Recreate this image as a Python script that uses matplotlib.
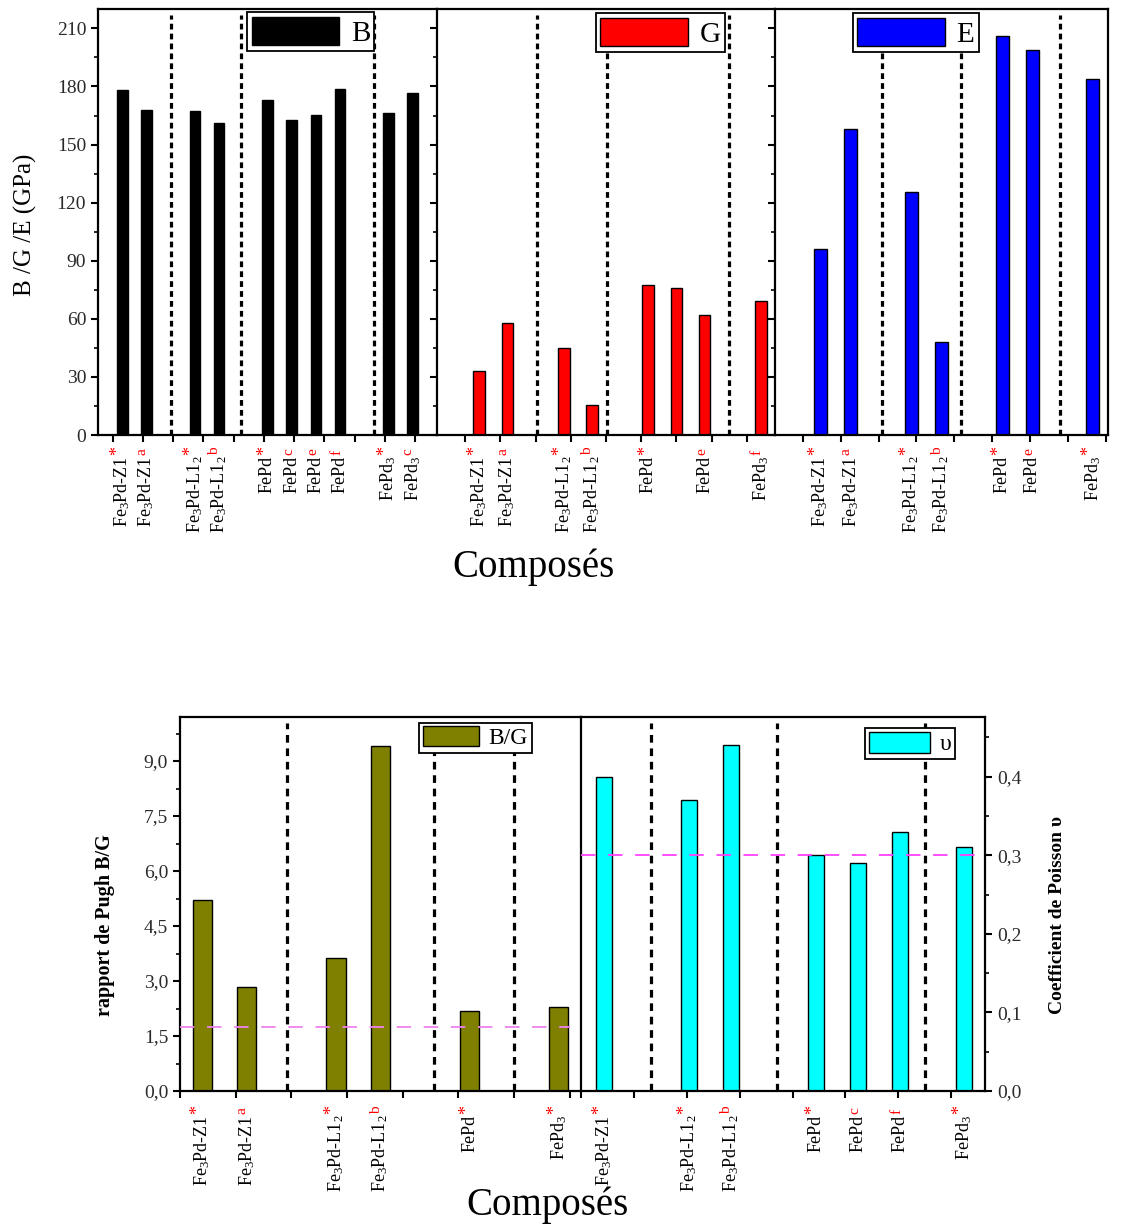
import matplotlib
matplotlib.use('Agg')
import matplotlib.pyplot as plt
from matplotlib.ticker import MultipleLocator, FixedLocator, NullFormatter, FuncFormatter
import numpy as np

plt.rcParams['font.family'] = ['Liberation Serif', 'DejaVu Serif']
plt.rcParams['mathtext.fontset'] = 'custom'
plt.rcParams['mathtext.rm'] = 'Liberation Serif'
plt.rcParams['mathtext.it'] = 'Liberation Serif:italic'
plt.rcParams['mathtext.bf'] = 'Liberation Serif:bold'

# compound names
Z1 = r'Fe$_3$Pd-Z1'
L12 = r'Fe$_3$Pd-L1$_2$'
FEPD = 'FePd'
FEPD3 = r'FePd$_3$'

# bulk modulus B (GPa)
b_names = [Z1, Z1, L12, L12, FEPD, FEPD, FEPD, FEPD, FEPD3, FEPD3]
b_refs = ['*', 'a', '*', 'b', '*', 'c', 'e', 'f', '*', 'c']
b_vals = [178, 168, 167.5, 161, 173, 162.5, 165.5, 178.5, 166.5, 176.5]

# shear modulus G (GPa)
g_names = [Z1, Z1, L12, L12, FEPD, FEPD, FEPD, FEPD3]
g_refs = ['*', 'a', '*', 'b', '*', 'e', 'f', '*']
g_vals = [33, 58, 45, 15.5, 77.5, 76, 62, 69]

# Young modulus E (GPa)
e_names = [Z1, Z1, L12, L12, FEPD, FEPD, FEPD3]
e_refs = ['*', 'a', '*', 'b', '*', 'e', '*']
e_vals = [96, 158, 125.5, 48, 206, 199, 184]

# Pugh ratio B/G
bg_names = [Z1, Z1, L12, L12, FEPD, FEPD3]
bg_refs = ['*', 'a', '*', 'b', '*', '*']
bg_vals = [5.2, 2.85, 3.62, 9.4, 2.18, 2.28]
pugh_limit = 1.75

# Poisson coefficient
nu_names = [Z1, L12, L12, FEPD, FEPD, FEPD, FEPD3]
nu_refs = ['*', '*', 'b', '*', 'c', 'f', '*']
nu_vals = [0.40, 0.37, 0.44, 0.30, 0.29, 0.33, 0.31]
nu_limit = 0.30

W, H = 1124, 1229
fig = plt.figure(figsize=(W / 100, H / 100), dpi=100)

LW = 1.6
LAB_FS = 13


def frac(x0, y0, x1, y1):
    return [x0 / W, 1 - y1 / H, (x1 - x0) / W, (y1 - y0) / H]


def panel(ax, x, vals, color, width, xmax, seps, tick0, names, pad, dash):
    ax.bar(x, vals, width, color=color, edgecolor='black', linewidth=1.0, zorder=2)
    for s in seps:
        ax.axvline(s, ymax=0.985, color='black', ls=(0, dash), lw=2.3, zorder=1)
    ax.set_xlim(0, xmax)
    ax.xaxis.set_major_locator(FixedLocator(np.arange(tick0, xmax, 1.25)))
    ax.xaxis.set_major_formatter(NullFormatter())
    ax.set_xticks(x, minor=True)
    ax.set_xticklabels(names, minor=True, rotation=90, fontsize=LAB_FS, va='top')
    ax.tick_params(axis='x', which='major', direction='out', length=5, width=1.5)
    ax.tick_params(axis='x', which='minor', length=0, pad=pad)
    for sp in ax.spines.values():
        sp.set_linewidth(LW)


# ---------- top: B / G / E ----------
ax_b = fig.add_axes(frac(98, 9, 437, 435))
ax_g = fig.add_axes(frac(437, 9, 775, 435))
ax_e = fig.add_axes(frac(775, 9, 1108, 435))

top_dash = (1.8, 1.3)
panel(ax_b, [1, 2, 4, 5, 7, 8, 9, 10, 12, 13], b_vals, 'black', 0.44, 14,
      [3, 5.9, 11.4], 0.6, b_names, 15, top_dash)
panel(ax_g, [1.5, 2.5, 4.5, 5.5, 7.5, 8.5, 9.5, 11.5], g_vals, '#ff0000', 0.42, 12,
      [3.55, 6.05, 10.35], 1.0, g_names, 15, top_dash)
panel(ax_e, [1.5, 2.5, 4.5, 5.5, 7.5, 8.5, 10.5], e_vals, '#0000ff', 0.43, 11,
      [3.55, 6.15, 9.4], 0.92, e_names, 15, top_dash)

for ax in (ax_b, ax_g, ax_e):
    ax.set_ylim(0, 220)
    ax.yaxis.set_major_locator(MultipleLocator(30))
    ax.yaxis.set_minor_locator(MultipleLocator(15))
    ax.tick_params(axis='y', which='major', direction='out', length=5, width=1.5,
                   labelsize=14, labelcolor='#2a2a2a')
    ax.tick_params(axis='y', which='minor', direction='out', length=3, width=1.2)
for ax in (ax_b, ax_g):
    ax.spines['right'].set_visible(False)
for ax in (ax_g, ax_e):
    ax.tick_params(axis='y', labelleft=False)
ax_b.set_yticks(range(0, 211, 30))

leg_kw = dict(frameon=True, fancybox=False, edgecolor='black', framealpha=1,
              borderpad=0.15, handletextpad=0.4, borderaxespad=0, loc='upper left')
for ax, lab, anchor in ((ax_b, 'B', (0.44, 0.992)), (ax_g, 'G', (0.47, 0.99)),
                        (ax_e, 'E', (0.234, 0.99))):
    h = ax.patches[0]
    lg = ax.legend([h], [lab], bbox_to_anchor=anchor, fontsize=21,
                   handlelength=3.0, handleheight=1.1, **leg_kw)
    lg.get_frame().set_linewidth(1.3)
    lg.set_zorder(5)

fig.text(25 / W, 1 - 225 / H, 'B /G /E (GPa)', rotation=90, ha='center', va='center',
         fontsize=18)
fig.text(533 / W, 1 - 567 / H, 'Composés', ha='center', va='center', fontsize=28)

# ---------- bottom: B/G and Poisson ----------
ax_p = fig.add_axes(frac(180, 717, 581, 1091))
ax_n = fig.add_axes(frac(581, 717, 985, 1091))

bot_dash = (2.4, 1.8)
panel(ax_p, [0.5, 1.5, 3.5, 4.5, 6.5, 8.5], bg_vals, '#808000', 0.43, 9,
      [2.4, 5.7, 7.5], 0.0, bg_names, 17, bot_dash)
panel(ax_n, [0.55, 2.55, 3.55, 5.55, 6.55, 7.55, 9.05], nu_vals, '#00ffff', 0.38, 9.55,
      [1.65, 4.63, 8.13], 0.0, nu_names, 17, bot_dash)

ax_p.plot([0, 8.75], [pugh_limit, pugh_limit], color='violet', lw=1.3,
          ls=(0, (8, 7)), zorder=3)
ax_n.axhline(nu_limit, color='#ff40ff', lw=1.3, ls=(0, (8, 7)), zorder=3)

comma = FuncFormatter(lambda v, p: f'{v:.1f}'.replace('.', ','))
ax_p.set_ylim(0, 10.2)
ax_p.yaxis.set_major_locator(MultipleLocator(1.5))
ax_p.yaxis.set_minor_locator(MultipleLocator(0.75))
ax_p.yaxis.set_major_formatter(comma)
ax_p.spines['right'].set_visible(False)

ax_n.set_ylim(0, 0.476)
ax_n.yaxis.tick_right()
ax_n.yaxis.set_label_position('right')
ax_n.yaxis.set_major_locator(MultipleLocator(0.1))
ax_n.yaxis.set_minor_locator(MultipleLocator(0.05))
ax_n.yaxis.set_major_formatter(comma)

for ax in (ax_p, ax_n):
    ax.tick_params(axis='y', which='major', direction='out', length=5, width=1.5,
                   labelsize=14, labelcolor='#2a2a2a')
    ax.tick_params(axis='y', which='minor', direction='out', length=3, width=1.2)

lg = ax_p.legend([ax_p.patches[0]], ['B/G'], bbox_to_anchor=(0.596, 0.985), fontsize=17,
                 handlelength=2.4, handleheight=0.9, **leg_kw)
lg.get_frame().set_linewidth(1.3)
lg.set_zorder(5)
lg = ax_n.legend([ax_n.patches[0]], ['υ'], bbox_to_anchor=(0.703, 0.97), fontsize=17,
                 handlelength=2.6, handleheight=1.0, **leg_kw)
lg.get_frame().set_linewidth(1.3)
lg.set_zorder(5)

fig.text(105 / W, 1 - 925 / H, 'rapport de Pugh B/G', rotation=90, ha='center',
         va='center', fontsize=14.5, fontweight='bold')
fig.text(1057 / W, 1 - 915 / H, 'Coefficient de Poisson υ', rotation=90, ha='center',
         va='center', fontsize=14, fontweight='bold')
fig.text(548 / W, 1 - 1205 / H, 'Composés', ha='center', va='center', fontsize=28)

# red reference marks after each compound name
fig.canvas.draw()
renderer = fig.canvas.get_renderer()
inv = fig.transFigure.inverted()
for ax, refs in ((ax_b, b_refs), (ax_g, g_refs), (ax_e, e_refs),
                 (ax_p, bg_refs), (ax_n, nu_refs)):
    fs_px = LAB_FS * 100 / 72
    for lab, ref in zip(ax.xaxis.get_ticklabels(minor=True), refs):
        bb = lab.get_window_extent(renderer)
        x, y = inv.transform((bb.x0 + 0.3 * fs_px, bb.y1 + 1))
        fig.text(x, y, ref, color='red', rotation=90, ha='center', va='bottom',
                 fontsize=LAB_FS * (1.0 if ref == '*' else 0.85))

fig.savefig('out.png', dpi=100)
